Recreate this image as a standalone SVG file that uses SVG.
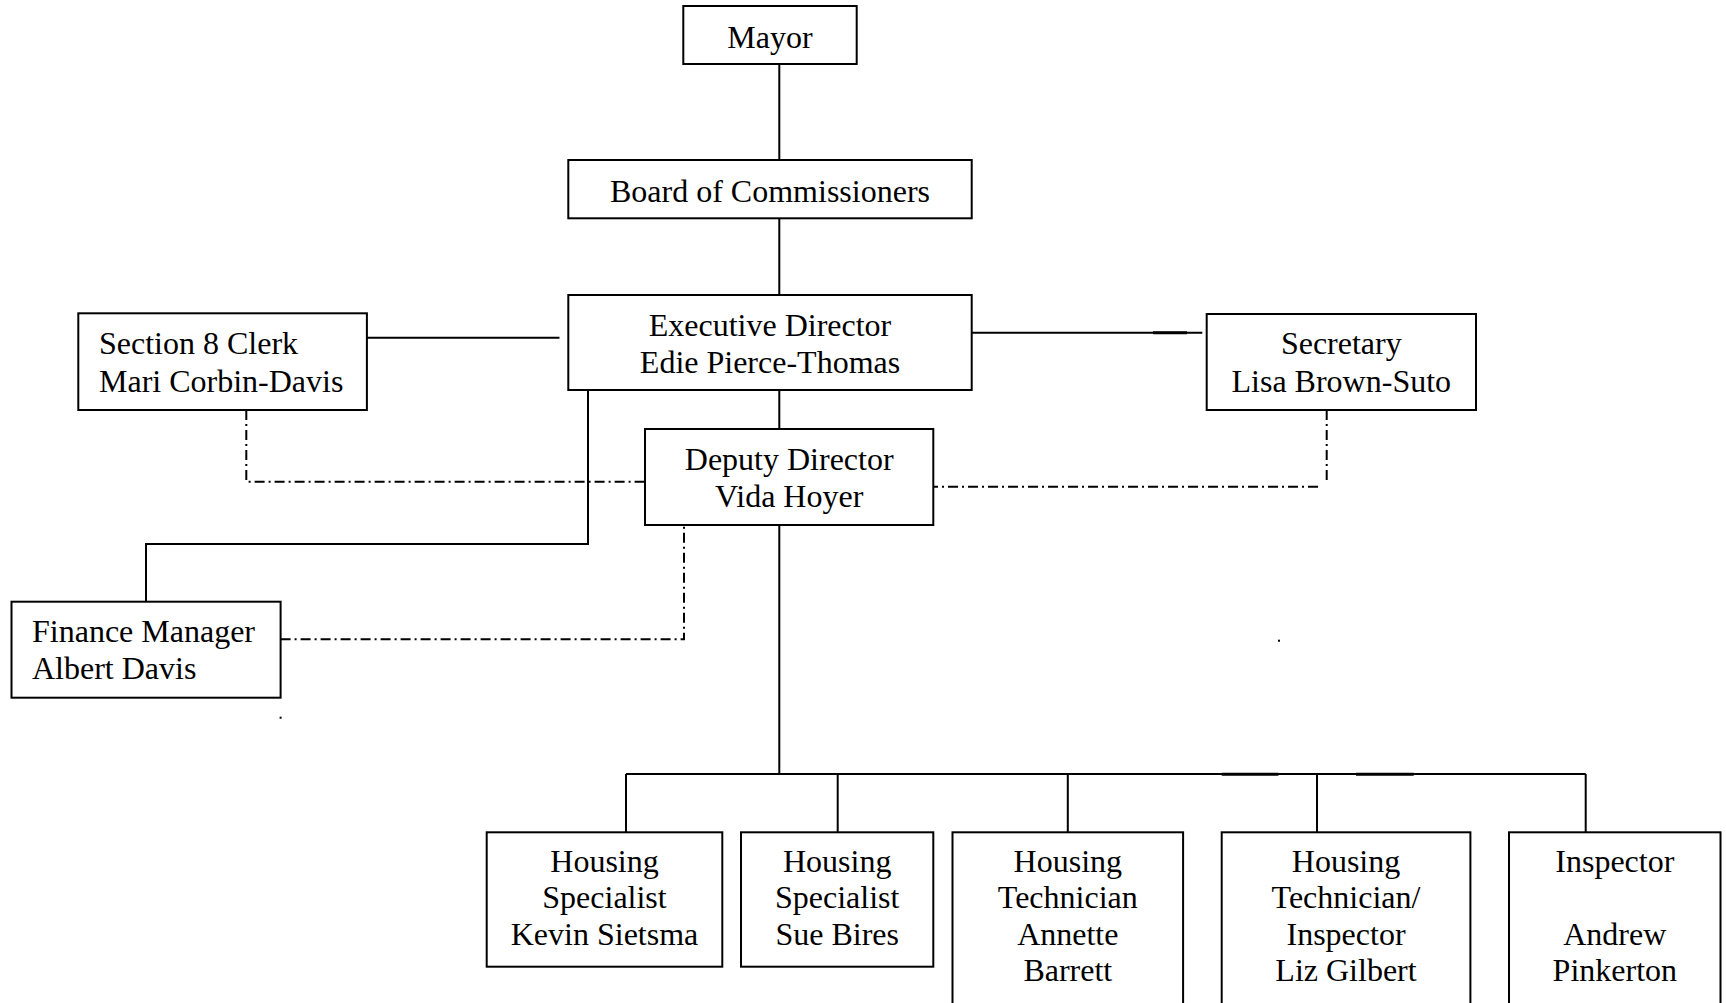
<svg xmlns="http://www.w3.org/2000/svg" width="1726" height="1003" viewBox="0 0 1726 1003">
<style>
.box{fill:#fff;stroke:#000;stroke-width:2}
.ln{fill:none;stroke:#000;stroke-width:2}
.dd{fill:none;stroke:#000;stroke-width:2;stroke-dasharray:10 4 2 4}
text{font-family:"Liberation Serif","Times New Roman",serif;font-size:32px;fill:#000}
.c{text-anchor:middle}
</style>
<rect width="1726" height="1003" fill="#fff"/>
<g id="connectors">
<path class="ln" d="M779.3 64V160M779.3 218.3V295M779.3 390V429M779.3 525V774M626 774H1585.7M626 774V832.3M837.7 774V832.3M1067.8 774V832.3M1317 774V832.3M1585.7 774V832.3"/>
<path class="ln" d="M366.9 337.7H559.5M971.7 332.7H1202.3"/>
<path class="ln" d="M588 390V544H146V601.7"/>
<path class="dd" d="M246.3 410V481.7H650.7"/>
<path class="dd" d="M1326.7 410V481.7M1318 486.7H933.3"/>
<path class="dd" d="M280.6 639.3H684V525"/>
<path fill="none" stroke="#000" stroke-width="3" d="M1153 332.7H1187M1221.7 774.3H1278.4M1356 774.3H1413.7"/>
<rect x="279.6" y="716.7" width="2" height="2" fill="#000"/>
<rect x="1278" y="639.7" width="2" height="2" fill="#000"/>
</g>
<g id="mayor"><rect class="box" x="683.3" y="6" width="173.4" height="58"/><text class="c" x="770" y="47.5">Mayor</text></g>
<g id="board"><rect class="box" x="568.3" y="160" width="403.4" height="58.3"/><text class="c" x="770" y="201.5">Board of Commissioners</text></g>
<g id="exec"><rect class="box" x="568.3" y="295" width="403.4" height="95"/><text class="c" x="770" y="335.5">Executive Director</text><text class="c" x="770" y="372.5">Edie Pierce-Thomas</text></g>
<g id="section8"><rect class="box" x="78.3" y="313.3" width="288.6" height="96.7"/><text x="99" y="354">Section 8 Clerk</text><text x="99" y="391.5">Mari Corbin-Davis</text></g>
<g id="secretary"><rect class="box" x="1206.7" y="314" width="269.3" height="96"/><text class="c" x="1341.3" y="354">Secretary</text><text class="c" x="1341.3" y="391.5">Lisa Brown-Suto</text></g>
<g id="deputy"><rect class="box" x="645" y="429" width="288.3" height="96"/><text class="c" x="789.2" y="469.5">Deputy Director</text><text class="c" x="789.2" y="506.5">Vida Hoyer</text></g>
<g id="finance"><rect class="box" x="11.5" y="601.7" width="269.1" height="96"/><text x="32" y="641.5">Finance Manager</text><text x="32" y="679">Albert Davis</text></g>
<g id="kevin"><rect class="box" x="486.7" y="832.3" width="235.6" height="134.4"/><text class="c" x="604.5" y="871.5">Housing</text><text class="c" x="604.5" y="908">Specialist</text><text class="c" x="604.5" y="944.5">Kevin Sietsma</text></g>
<g id="sue"><rect class="box" x="741" y="832.3" width="192.3" height="134.4"/><text class="c" x="837.2" y="871.5">Housing</text><text class="c" x="837.2" y="908">Specialist</text><text class="c" x="837.2" y="944.5">Sue Bires</text></g>
<g id="annette"><rect class="box" x="952.5" y="832.3" width="230.6" height="180"/><text class="c" x="1067.8" y="871.5">Housing</text><text class="c" x="1067.8" y="908">Technician</text><text class="c" x="1067.8" y="944.5">Annette</text><text class="c" x="1067.8" y="981">Barrett</text></g>
<g id="liz"><rect class="box" x="1221.7" y="832.3" width="248.7" height="180"/><text class="c" x="1346" y="871.5">Housing</text><text class="c" x="1346" y="908">Technician/</text><text class="c" x="1346" y="944.5">Inspector</text><text class="c" x="1346" y="981">Liz Gilbert</text></g>
<g id="andrew"><rect class="box" x="1509" y="832.3" width="211.5" height="180"/><text class="c" x="1614.8" y="871.5">Inspector</text><text class="c" x="1614.8" y="944.5">Andrew</text><text class="c" x="1614.8" y="981">Pinkerton</text></g>
</svg>
